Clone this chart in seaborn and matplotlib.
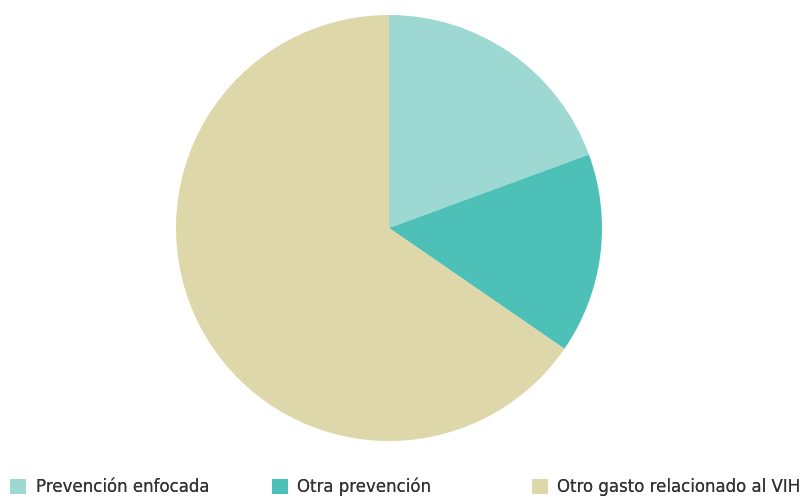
import matplotlib
matplotlib.use("Agg")
import matplotlib.pyplot as plt
from matplotlib.patches import Patch
import seaborn as sns

# datos
categorias = ["Prevención enfocada", "Otra prevención", "Otro gasto relacionado al VIH"]
valores = [19.4, 15.2, 65.4]
colores = ["#9ed8d2", "#4dc1b8", "#ddd7a9"]

sns.set_theme(style="white")
plt.rcParams["font.family"] = ["DejaVu Sans"]

fig = plt.figure(figsize=(8.03, 4.97), dpi=100)
ax = fig.add_axes([176 / 803, 56 / 497, 426 / 803, 426 / 497])
ax.pie(valores, colors=colores, startangle=90, counterclock=False,
       radius=1, wedgeprops=dict(linewidth=0))
ax.set_xlim(-1, 1)
ax.set_ylim(-1, 1)
ax.set_aspect("equal")
ax.axis("off")

# leyenda: tres columnas separadas
xs = [8 / 803, 270 / 803, 530 / 803]
for x, cat, col in zip(xs, categorias, colores):
    leg = fig.legend(handles=[Patch(facecolor=col, edgecolor="none")], labels=[cat],
                     loc="lower left", bbox_to_anchor=(x, -0.001), frameon=False,
                     fontsize=12, handlelength=1.0, handleheight=1.0,
                     handletextpad=0.55, borderpad=0.1, borderaxespad=0.0)
    for t in leg.get_texts():
        t.set_color("#333333")
    fig.add_artist(leg)

fig.savefig("out.png", dpi=100)
